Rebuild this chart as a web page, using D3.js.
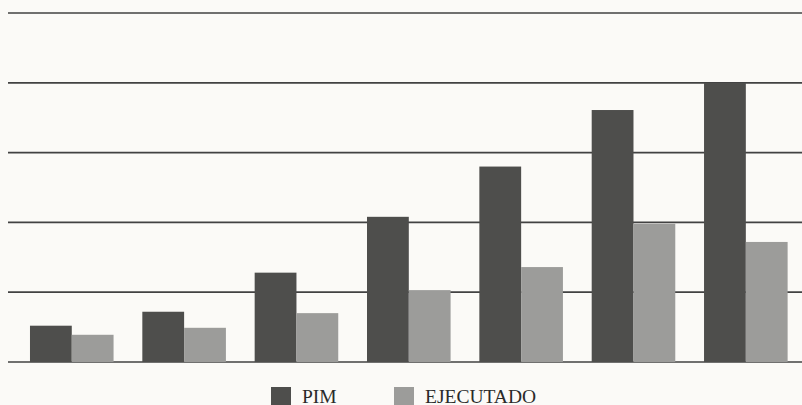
<!DOCTYPE html>
<html>
<head>
<meta charset="utf-8">
<script src="https://cdn.jsdelivr.net/npm/d3@7/dist/d3.min.js"></script>
<style>
  html, body { margin: 0; padding: 0; background: #fbfaf7; }
  svg { display: block; }
</style>
</head>
<body>
<div id="chart"></div>
<script>
// data (no axis labels in the original, units = one gridline)
var groups = ["1", "2", "3", "4", "5", "6", "7"];
var series = ["PIM", "EJECUTADO"];
var pim = [0.52, 0.72, 1.28, 2.08, 2.80, 3.61, 4.00];
var ejecutado = [0.39, 0.49, 0.70, 1.03, 1.36, 1.98, 1.72];
var gridTicks = [0, 1, 2, 3, 4, 5];

var colors = {"PIM": "#4e4e4c", "EJECUTADO": "#9c9c9a"};

var W = 802, H = 405;
var baseY = 362, topY = 13;

var svg = d3.select("#chart").append("svg")
    .attr("width", W)
    .attr("height", H);

// scales
var x0 = d3.scaleBand()
    .domain(groups)
    .range([15.6, 802])
    .paddingInner(0.256)
    .paddingOuter(0.128);

var x1 = d3.scaleBand()
    .domain(series)
    .range([0, x0.bandwidth()]);

var y = d3.scaleLinear()
    .domain([0, 5])
    .range([baseY, topY]);

// horizontal gridlines (no labels)
svg.append("g")
    .attr("class", "grid")
    .selectAll("line")
    .data(gridTicks)
    .enter()
    .append("line")
    .attr("x1", 8)
    .attr("x2", W)
    .attr("y1", function(d) { return y(d); })
    .attr("y2", function(d) { return y(d); })
    .attr("stroke", "#424242")
    .attr("stroke-width", 1.7);

// bars
var rows = groups.map(function(g, i) {
    return {group: g, values: [
        {key: "PIM", value: pim[i]},
        {key: "EJECUTADO", value: ejecutado[i]}
    ]};
});

svg.append("g")
    .selectAll("g")
    .data(rows)
    .enter()
    .append("g")
    .attr("transform", function(d) { return "translate(" + x0(d.group) + ",0)"; })
    .selectAll("rect")
    .data(function(d) { return d.values; })
    .enter()
    .append("rect")
    .attr("x", function(d) { return x1(d.key); })
    .attr("y", function(d) { return y(d.value); })
    .attr("width", x1.bandwidth())
    .attr("height", function(d) { return baseY - y(d.value); })
    .attr("fill", function(d) { return colors[d.key]; });

// legend (bottom edge is cut off in the original too)
var legendX = [271, 394];
var legend = svg.append("g")
    .selectAll("g")
    .data(series)
    .enter()
    .append("g")
    .attr("transform", function(d, i) { return "translate(" + legendX[i] + ",387)"; });

legend.append("rect")
    .attr("width", 20)
    .attr("height", 20)
    .attr("fill", function(d) { return colors[d]; });

legend.append("text")
    .attr("x", 31)
    .attr("y", 16)
    .attr("font-family", "'Liberation Serif', 'DejaVu Serif', serif")
    .attr("font-size", "19.5px")
    .attr("fill", "#2a2a2a")
    .text(function(d) { return d; });
</script>
</body>
</html>
